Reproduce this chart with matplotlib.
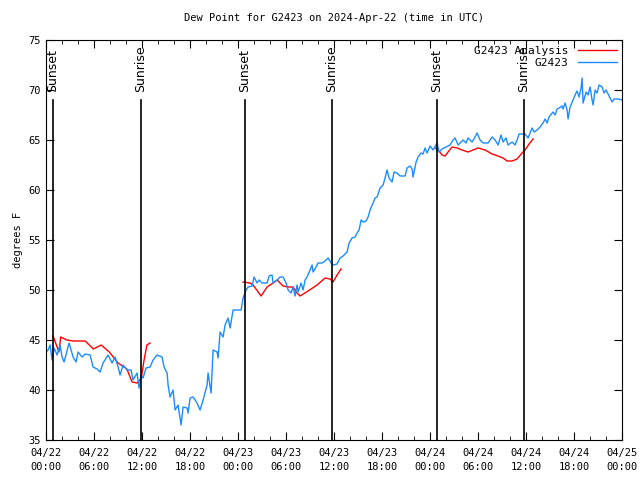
import numpy as np
import pandas as pd
import matplotlib
matplotlib.use("Agg")
import matplotlib.pyplot as plt
import matplotlib.dates as mdates

# hours after 2024-04-22 00:00 UTC
obs_hours = [0.0, 0.25, 0.5, 0.75, 1.0, 1.375, 1.75, 2.0, 2.25, 2.875, 3.375, 3.75, 4.0, 4.5, 4.875,
             5.5, 5.875, 6.375, 6.75, 7.125, 7.75, 8.25, 8.625, 9.0, 9.25, 9.625, 10.125, 10.625,
             10.875, 11.375, 11.625, 11.875, 12.125, 12.5, 13.0, 13.375, 13.875, 14.5, 14.75, 15.125,
             15.25, 15.5, 15.875, 16.125, 16.5, 16.625, 16.875, 17.125, 17.625, 17.75, 18.0, 18.375,
             18.875, 19.25, 19.625, 20.125, 20.25, 20.625, 20.875, 21.375, 21.5, 21.75, 22.125,
             22.375, 22.75, 23.0, 23.375, 23.875, 24.375, 24.625, 25.0, 25.25, 25.75, 26.0, 26.375,
             26.625, 27.0, 27.625, 27.875, 28.25, 28.375, 28.875, 29.25, 29.625, 30.0, 30.25, 30.625,
             30.875, 31.125, 31.375, 31.5, 31.875, 32.125, 32.375, 32.625, 33.0, 33.25, 33.375,
             33.75, 34.0, 34.5, 34.875, 35.25, 35.625, 35.875, 36.375, 36.75, 37.125, 37.625, 37.875,
             38.25, 38.625, 38.875, 39.125, 39.375, 39.625, 40.0, 40.25, 40.5, 40.875, 41.125,
             41.375, 41.75, 42.125, 42.375, 42.625, 42.875, 43.25, 43.5, 43.875, 44.25, 44.875,
             45.125, 45.5, 45.75, 45.875, 46.25, 46.5, 46.875, 47.125, 47.375, 47.625, 48.0, 48.375,
             48.875, 49.125, 49.5, 50.0, 50.5, 50.875, 51.125, 51.5, 52.125, 52.5, 52.75, 53.25,
             53.625, 53.875, 54.25, 54.625, 55.25, 55.75, 56.125, 56.5, 56.875, 57.125, 57.5, 57.75,
             58.25, 58.625, 58.875, 59.125, 59.875, 60.25, 60.75, 61.0, 61.375, 61.75, 62.125,
             62.375, 62.625, 62.875, 63.375, 63.625, 63.875, 64.125, 64.5, 64.625, 64.875, 65.125,
             65.25, 65.5, 65.875, 66.125, 66.375, 66.625, 66.875, 67.0, 67.125, 67.5, 67.75, 68.0,
             68.25, 68.375, 68.625, 68.875, 69.125, 69.5, 69.75, 70.0, 70.25, 70.75, 71.0, 71.5, 72.0]
obs_dew = [43.8, 44.0, 44.5, 43.0, 44.2, 43.5, 44.5, 43.3, 42.8, 44.7, 43.3, 42.8, 43.8, 43.3, 43.6,
           43.5, 42.3, 42.1, 41.8, 42.7, 43.5, 42.7, 43.3, 42.3, 41.5, 42.5, 42.0, 42.0,
           41.0, 41.7, 40.2, 41.5, 41.2, 42.2, 42.3, 43.0, 43.5, 43.3, 42.3, 41.7,
           40.5, 39.3, 40.0, 38.0, 38.5, 37.8, 36.5, 38.3, 38.2, 37.7, 39.2, 39.3,
           38.7, 38.0, 39.0, 40.5, 41.7, 39.7, 44.0, 43.8, 43.2, 45.8, 45.3,
           46.5, 47.2, 46.2, 48.0, 48.0, 48.0, 49.2, 50.0, 50.3, 50.4, 51.3, 50.7,
           51.0, 50.7, 50.7, 51.4, 51.5, 50.7, 51.0, 51.3, 51.3, 50.7, 50.0, 49.7,
           50.3, 49.4, 50.5, 49.8, 50.7, 50.0, 51.0, 51.3, 52.0, 52.5, 51.8,
           52.3, 52.7, 52.7, 52.9, 53.2, 52.7, 52.5, 52.6, 53.2, 53.4, 53.8, 54.7,
           55.2, 55.3, 55.7, 56.0, 57.0, 56.8, 56.9, 57.3, 58.0, 58.7, 59.2,
           59.3, 60.2, 60.5, 61.2, 62.0, 61.2, 60.8, 61.8, 61.7, 61.4, 61.4,
           62.2, 62.4, 62.1, 61.3, 62.8, 63.3, 63.7, 63.6, 64.2, 63.7, 64.4, 64.0,
           64.7, 63.8, 64.1, 64.3, 64.5, 65.0, 65.2, 64.5, 65.0, 64.7, 65.2, 64.8,
           65.3, 65.7, 65.0, 64.7, 64.7, 65.3, 65.0, 64.5, 65.5, 64.8, 65.2, 64.5,
           64.8, 64.5, 65.0, 65.6, 65.6, 65.2, 66.2, 65.8, 66.0, 66.3, 66.7,
           67.1, 66.7, 67.3, 67.8, 67.5, 68.1, 68.2, 68.4, 68.1, 68.7, 68.0,
           67.1, 68.3, 69.0, 69.5, 69.9, 69.3, 70.2, 71.2, 68.7, 69.8, 69.5, 70.3,
           69.0, 68.5, 70.0, 69.7, 70.5, 70.3, 69.7, 70.0, 69.6, 68.8, 69.1, 69.1, 69.0]

# analysis, three night-time runs (None marks a gap)
ana_hours = [0.875, 1.6, 1.83, 2.6, 3.4, 4.9, 5.9, 6.9, 7.9, 8.5, 9.0, 9.75, 10.1, 10.75, 11.4,
             11.9, 12.25, 12.6, 13.0,
             None,
             24.625, 25.5, 25.875, 26.875, 27.625, 28.375, 28.875, 29.625, 30.25, 30.875, 31.375,
             31.75, 32.75, 33.875, 34.875, 35.5, 35.875, 36.375, 36.875,
             None,
             48.625, 49.0, 49.5, 49.875, 50.25, 50.75, 51.375, 52.0, 52.75, 53.375, 54.0, 54.875,
             55.75, 56.5, 57.125, 57.625, 58.25, 58.875, 59.5, 59.875, 60.375, 60.875]
ana_dew = [45.4, 43.8, 45.3, 45.0, 44.9, 44.9, 44.1, 44.5, 43.8, 43.2, 42.7, 42.3, 42.1, 40.8, 40.7,
           41.2, 43.0, 44.5, 44.7,
           None,
           50.8, 50.7, 50.5, 49.4, 50.3, 50.7, 51.0, 50.4, 50.3, 50.3, 49.7,
           49.4, 49.9, 50.5, 51.2, 51.1, 50.8, 51.5, 52.1,
           None,
           64.2, 64.0, 63.5, 63.4, 63.8, 64.3, 64.2, 64.0, 63.8, 64.0, 64.2, 64.0,
           63.6, 63.4, 63.2, 62.9, 62.9, 63.1, 63.7, 64.0, 64.6, 65.1]

event_hours = [0.875, 11.875, 24.875, 35.75, 48.875, 59.75]
event_names = ["Sunset", "Sunrise", "Sunset", "Sunrise", "Sunset", "Sunrise"]

start = pd.Timestamp("2024-04-22 00:00")


def to_time(hours):
    return [start + pd.Timedelta(hours=h) for h in hours]


def split_runs(xs, ys):
    runs, cx, cy = [], [], []
    for x, y in zip(xs, ys):
        if x is None:
            runs.append((cx, cy))
            cx, cy = [], []
        else:
            cx.append(x)
            cy.append(y)
    runs.append((cx, cy))
    return runs


mono = "DejaVu Sans Mono"
fig = plt.figure(figsize=(6.4, 4.8), dpi=100)
ax = fig.add_axes([0.072, 0.0833, 0.9, 0.8334])

for i, (hx, hy) in enumerate(split_runs(ana_hours, ana_dew)):
    ax.plot(to_time(hx), hy, color="#ff0000", lw=1.0,
            label="G2423 Analysis" if i == 0 else None)
ax.plot(to_time(obs_hours), obs_dew, color="#1a8cff", lw=1.0, label="G2423")

for t, name in zip(to_time(event_hours), event_names):
    ax.plot([t, t], [35, 69.0], color="black", lw=1.2)
    ax.text(t, 69.8, name, rotation=90, ha="center", va="bottom", fontsize=9,
            family="DejaVu Sans")

ax.set_xlim(start, start + pd.Timedelta(hours=72))
ax.set_ylim(35, 75)
ax.xaxis.set_major_locator(mdates.HourLocator(byhour=range(0, 24, 6)))
ax.xaxis.set_minor_locator(mdates.HourLocator(byhour=range(0, 24, 2)))
ax.xaxis.set_major_formatter(mdates.DateFormatter("%m/%d\n%H:%M"))
ax.set_yticks(range(35, 80, 5))
ax.tick_params(which="both", direction="in", top=True, right=True, labelsize=7.5)
ax.tick_params(which="major", length=6)
ax.tick_params(which="minor", length=3)
ax.tick_params(axis="x", pad=6)
for lab in ax.get_xticklabels() + ax.get_yticklabels():
    lab.set_family(mono)
    lab.set_linespacing(1.4)

ax.set_ylabel("degrees F", fontsize=7.5, family=mono)
ax.set_title("Dew Point for G2423 on 2024-Apr-22 (time in UTC)", fontsize=7.5, family=mono, pad=14)
ax.legend(loc="upper right", frameon=False, markerfirst=False, prop={"family": mono, "size": 8},
          handlelength=3.5, borderaxespad=0.1, labelspacing=0.25)

fig.savefig("out.png", dpi=100)
